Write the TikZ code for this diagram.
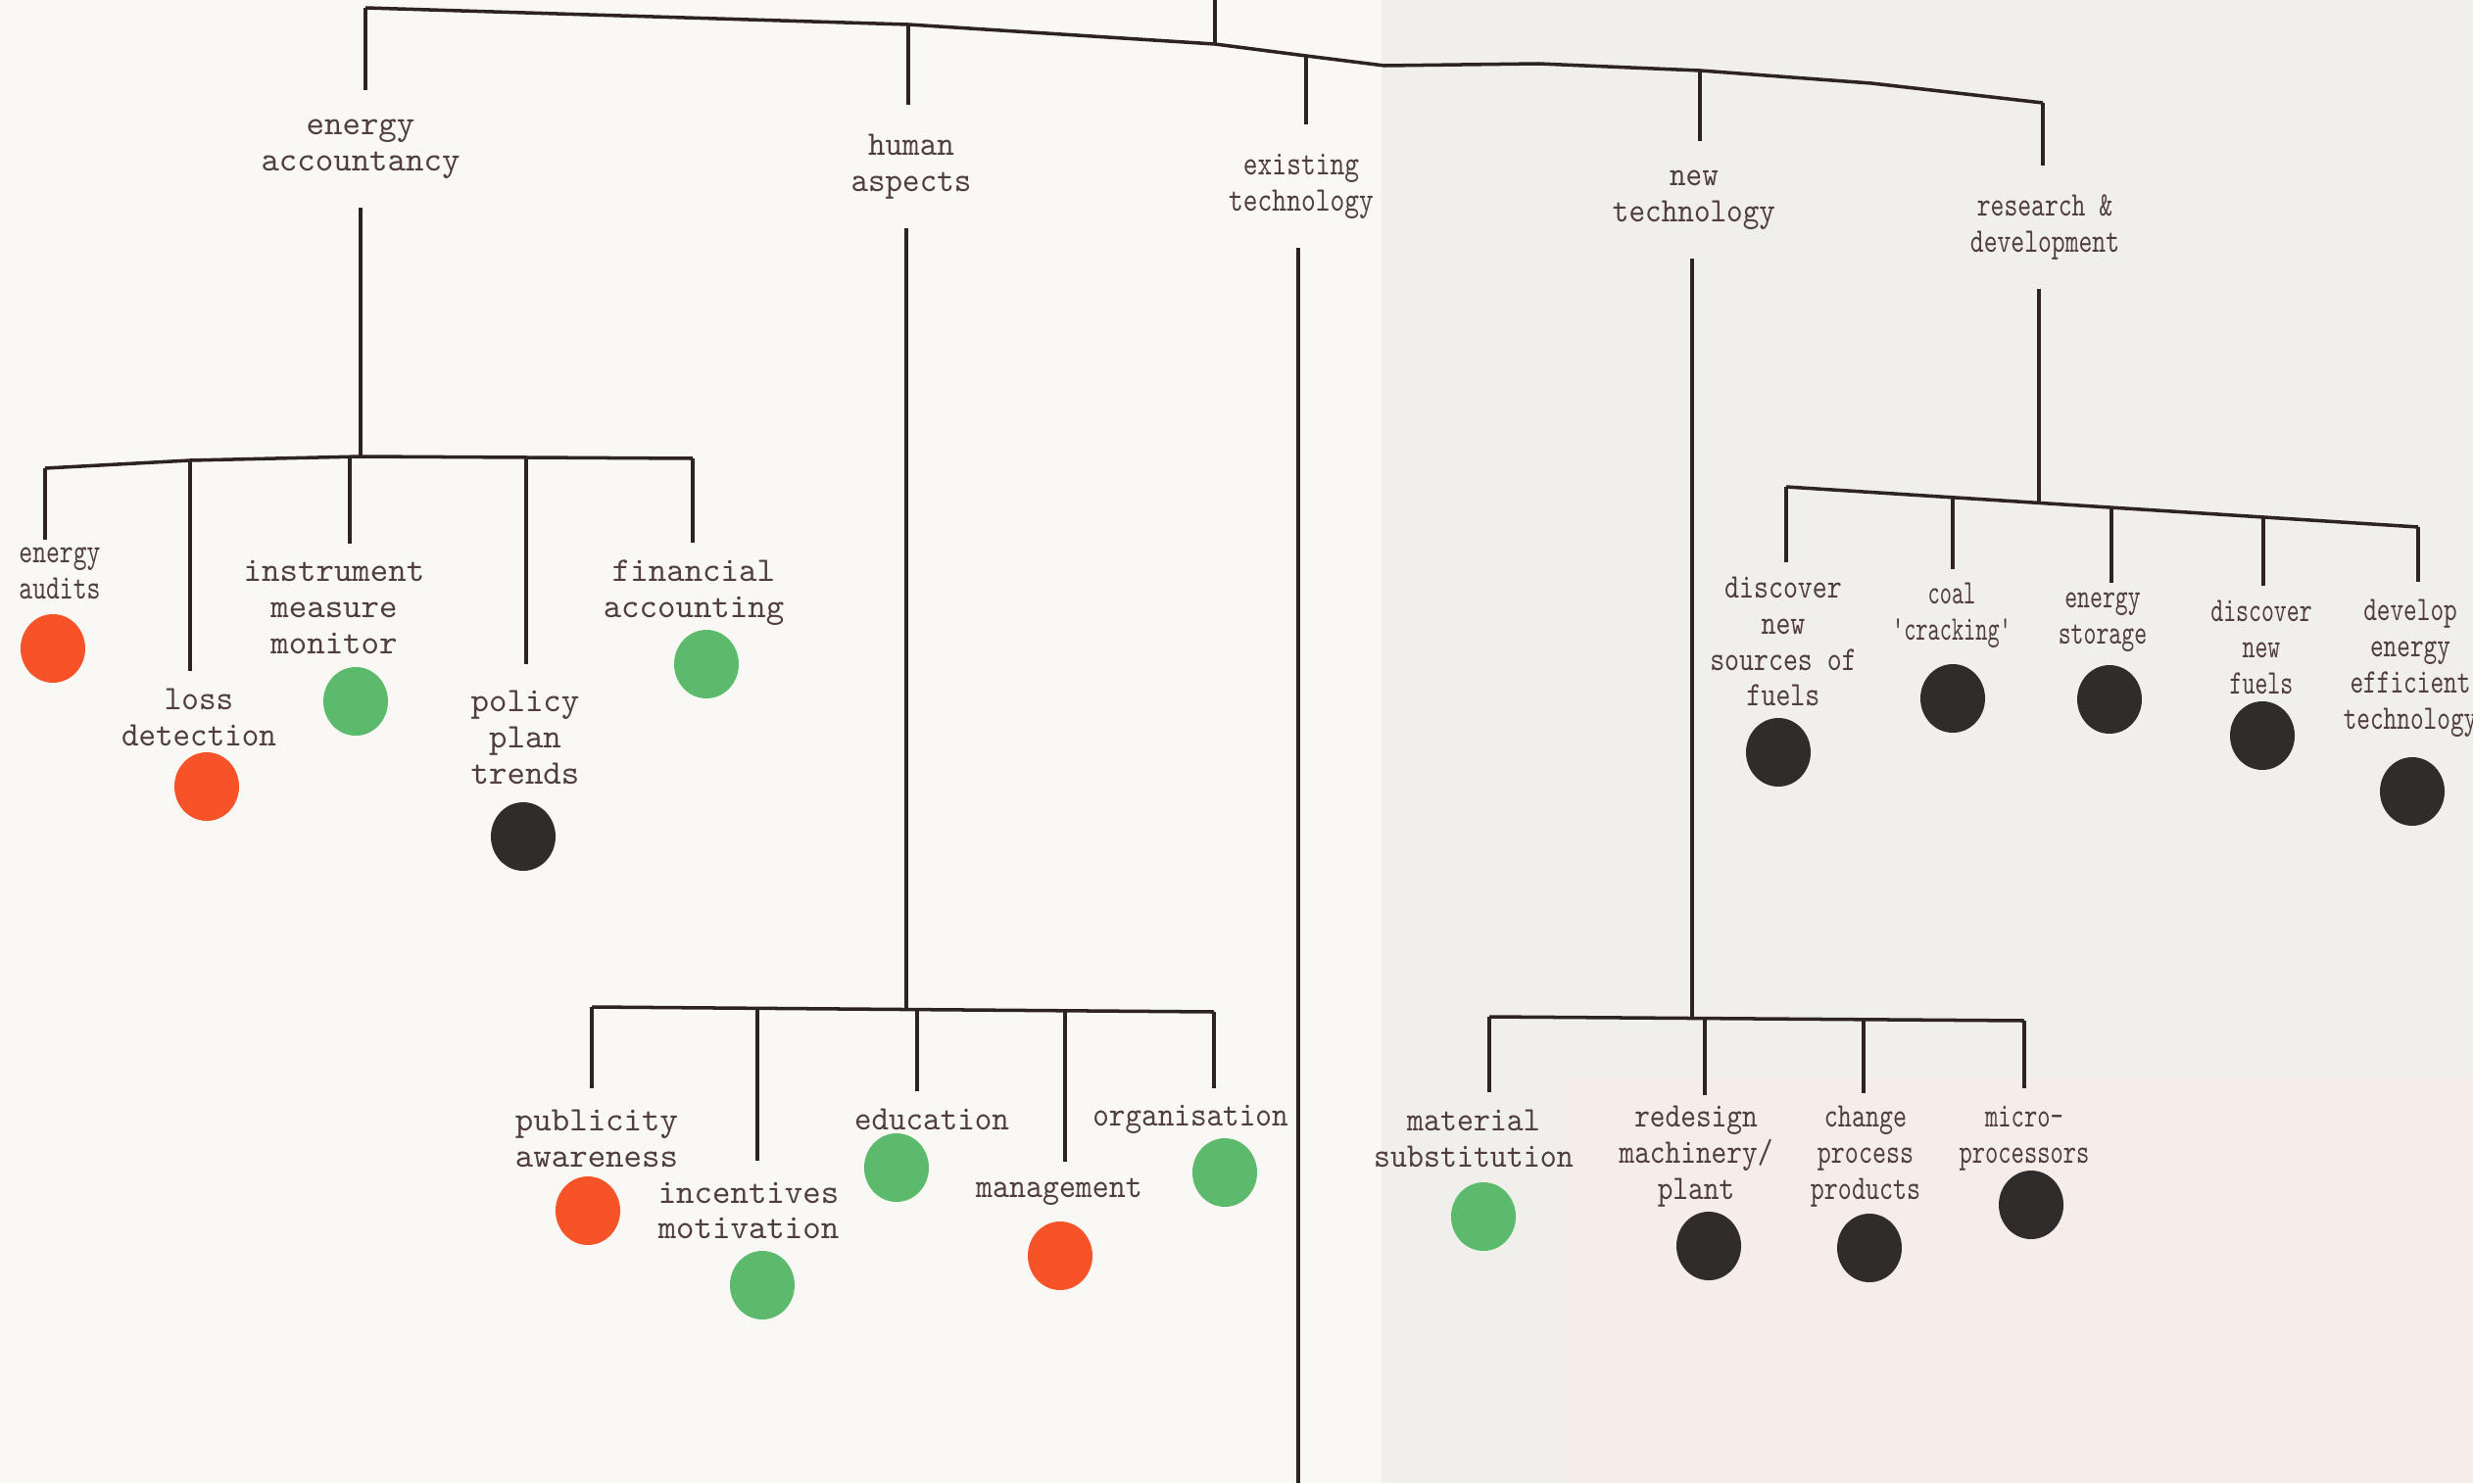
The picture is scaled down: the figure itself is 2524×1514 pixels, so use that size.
\documentclass[tikz,border=0pt]{standalone}
\usetikzlibrary{shapes.geometric}
\definecolor{paper}{RGB}{249,248,245}
\definecolor{paperR}{RGB}{241,239,236}
\definecolor{paperP}{RGB}{244,237,233}
\definecolor{ink}{RGB}{80,62,62}
\definecolor{wire}{RGB}{45,35,35}
\definecolor{dotred}{RGB}{246,84,40}
\definecolor{dotgreen}{RGB}{92,186,108}
\definecolor{dotdark}{RGB}{48,44,44}
\begin{document}
\begin{tikzpicture}[x=0.1mm, y=-0.1mm, line width=1pt, color=wire,
    every node/.style={font=\ttfamily\fontsize{10}{10.5}\selectfont, text=ink, align=center},
    head/.style={inner sep=2.8mm},
    leaf/.style={inner sep=1.6mm},
    squeeze/.style={xscale=#1},
    dot/.style={ellipse, inner sep=0pt, minimum width=6.6mm, minimum height=7mm},
    hot/.style={dot, fill=dotred},
    cool/.style={dot, fill=dotgreen},
    dark/.style={dot, fill=dotdark}]
\useasboundingbox (0,0) rectangle (2524,1514);
\fill[paper] (0,0) rectangle (2524,1514);
\fill[paperR] (1410,0) rectangle (2524,1514);
\fill[paperP] (1600,1100) rectangle (2524,1514);

% main bar
\coordinate (top) at (1240,0);
\coordinate (jea) at (373,8);
\coordinate (jha) at (927,25);
\coordinate (jroot) at (1240,45);
\coordinate (jet) at (1333,57);
\coordinate (kink) at (1413,67);
\coordinate (jnt) at (1735,72);
\coordinate (jrd) at (2085,105);
\draw (jea) -- (jha) -- (jroot) -- (jet) -- (kink) -- (1570,65) -- (jnt) -- (1910,85) -- (jrd);
\draw (top) -- (jroot);

\node[head] (ea) at (368,152) {energy\\accountancy};
\node[head, squeeze=0.95] (ha) at (930,170) {human\\aspects};
\node[head, squeeze=0.8] (et) at (1328,190) {existing\\technology};
\node[head, squeeze=0.9] (nt) at (1729,204) {new\\technology};
\node[head, squeeze=0.75] (rd) at (2087,232) {research \&\\development};
\foreach \j/\n in {jea/ea, jha/ha, jet/et, jnt/nt, jrd/rd}
  \draw (\j) -- (\j |- \n.north);

\coordinate (eac) at (368,466);
\coordinate (hac) at (925,1030);
\coordinate (etb) at (1325,1514);
\coordinate (ntc) at (1727,1039);
\coordinate (rdc) at (2081,513);
\foreach \n/\j in {ea/eac, ha/hac, et/etb, nt/ntc, rd/rdc}
  \draw (\n.south -| \j) -- (\j);

% energy accountancy
\coordinate (c-aud) at (46,478);
\coordinate (c-loss) at (194,470);
\coordinate (c-inst) at (357,467);
\coordinate (c-pol) at (537,467);
\coordinate (c-fin) at (707,468);
\draw (c-aud) -- (c-loss) -- (eac) -- (c-fin);
\node[leaf, squeeze=0.75, inner sep=0.6mm] (aud) at (61,585) {energy\\audits};
\node[leaf, squeeze=0.95] (loss) at (203,732) {loss\\detection};
\node[leaf] (inst) at (341,620) {instrument\\measure\\monitor};
\node[leaf, inner sep=2.6mm] (pol) at (536,753) {policy\\plan\\trends};
\node[leaf] (fin) at (708,605) {financial\\accounting};
\node[hot] (d-aud) at (54,662) {};
\node[hot] (d-loss) at (211,803) {};
\node[cool] (d-inst) at (363,716) {};
\node[dark] (d-pol) at (534,854) {};
\node[cool] (d-fin) at (721,678) {};

% human aspects
\coordinate (c-pub) at (604,1028);
\coordinate (c-inc) at (773,1029);
\coordinate (c-edu) at (936,1030);
\coordinate (c-man) at (1087,1032);
\coordinate (c-org) at (1239,1033);
\draw (c-pub) -- (c-org);
\node[leaf, inner sep=2mm] (pub) at (609,1162) {publicity\\awareness};
\node[leaf, inner sep=2mm] (inc) at (764,1236) {incentives\\motivation};
\node[leaf, squeeze=0.95] (edu) at (951,1143) {education};
\node[leaf, squeeze=0.92] (man) at (1081,1217) {management};
\node[leaf, squeeze=0.9] (org) at (1215,1143) {organisation};
\node[hot] (d-pub) at (600,1236) {};
\node[cool] (d-inc) at (778,1312) {};
\node[cool] (d-edu) at (915,1192) {};
\node[hot] (d-man) at (1082,1282) {};
\node[cool] (d-org) at (1250,1197) {};

% new technology
\coordinate (c-mat) at (1520,1038);
\coordinate (c-red) at (1740,1040);
\coordinate (c-chg) at (1902,1041);
\coordinate (c-mic) at (2066,1042);
\draw (c-mat) -- (c-mic);
\node[leaf, squeeze=0.92] (mat) at (1504,1162) {material\\substitution};
\node[leaf, squeeze=0.85, inner sep=1mm] (red) at (1731,1181) {redesign\\machinery/\\plant};
\node[leaf, squeeze=0.76, inner sep=1.2mm] (chg) at (1904,1181) {change\\process\\products};
\node[leaf, squeeze=0.72] (mic) at (2066,1162) {micro-\\processors};
\node[cool] (d-mat) at (1514,1242) {};
\node[dark] (d-red) at (1744,1272) {};
\node[dark] (d-chg) at (1908,1274) {};
\node[dark] (d-mic) at (2073,1230) {};

% research & development
\coordinate (c-src) at (1823,497);
\coordinate (c-coal) at (1993,508);
\coordinate (c-sto) at (2155,518);
\coordinate (c-fue) at (2310,528);
\coordinate (c-dev) at (2468,538);
\draw (c-src) -- (c-dev);
\node[leaf, squeeze=0.81, inner sep=1.3mm] (src) at (1820,655) {discover\\new\\sources of\\fuels};
\node[leaf, squeeze=0.66, inner sep=1.2mm] (coal) at (1992,628) {coal\\'cracking'};
\node[leaf, squeeze=0.7, inner sep=0.8mm] (sto) at (2146,635) {energy\\storage};
\node[leaf, squeeze=0.7, inner sep=1.4mm] (fue) at (2308,661) {discover\\new\\fuels};
\node[leaf, squeeze=0.74] (dev) at (2460,682) {develop\\energy\\efficient\\technology};
\node[dark] (d-src) at (1815,768) {};
\node[dark] (d-coal) at (1993,713) {};
\node[dark] (d-sto) at (2153,714) {};
\node[dark] (d-fue) at (2309,751) {};
\node[dark] (d-dev) at (2462,808) {};

\foreach \j/\n in {c-aud/aud, c-loss/loss, c-inst/inst, c-pol/pol, c-fin/fin,
    c-pub/pub, c-inc/inc, c-edu/edu, c-man/man, c-org/org,
    c-mat/mat, c-red/red, c-chg/chg, c-mic/mic,
    c-src/src, c-coal/coal, c-sto/sto, c-fue/fue, c-dev/dev}
  \draw (\j) -- (\j |- \n.north);
\end{tikzpicture}
\end{document}
